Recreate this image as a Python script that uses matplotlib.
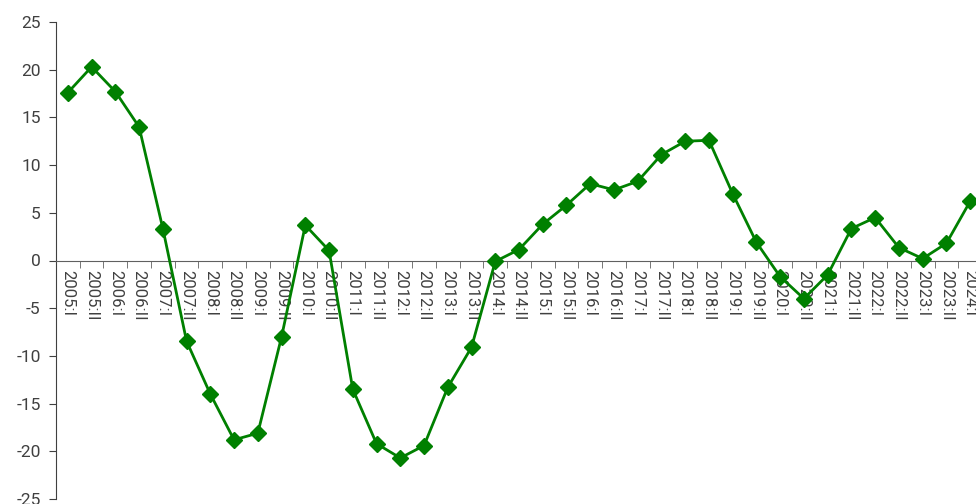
import matplotlib.pyplot as plt
import numpy as np

periods = []
for yr in range(2005, 2024):
    periods.append(f"{yr}:I")
    periods.append(f"{yr}:II")
periods.append("2024:I")

values = [17.6, 20.3, 17.7, 14.0, 3.35, -8.46, -14.0, -18.8, -18.1, -8.0,
          3.7, 1.05, -13.5, -19.2, -20.7, -19.4, -13.3, -9.1, -0.1, 1.15,
          3.8, 5.8, 8.05, 7.4, 8.3, 11.1, 12.5, 12.6, 7.0, 1.9,
          -1.7, -4.0, -1.5, 3.35, 4.5, 1.35, 0.2, 1.8, 6.2]

plt.rcParams['font.family'] = ['Roboto', 'DejaVu Sans']
plt.rcParams['axes.unicode_minus'] = False

fig = plt.figure(figsize=(9.76, 5.04), dpi=100)
ax = fig.add_axes([56 / 976, 5 / 504, 926 / 976, 477 / 504])

x = np.arange(len(periods))
ax.plot(x, values, color='#008000', lw=2, marker='D', markersize=8.5,
        markerfacecolor='#008000', markeredgecolor='#008000', zorder=3)

ax.set_xlim(-0.5, len(periods) - 0.5)
ax.set_ylim(-25, 25)
ax.set_yticks(range(-25, 30, 5))
ax.tick_params(axis='y', labelsize=12.5, labelcolor='#404040', length=5,
               color='#404040', pad=6)

ax.spines['top'].set_visible(False)
ax.spines['right'].set_visible(False)
ax.spines['bottom'].set_position(('data', 0))
ax.spines['bottom'].set_color('#606060')
ax.spines['left'].set_color('#404040')

ax.set_xticks(x)
ax.set_xticklabels(periods, rotation=270, fontsize=12, color='#404040',
                   va='top', ha='center')
ax.set_xticks(np.arange(len(periods) + 1) - 0.5, minor=True)
ax.tick_params(axis='x', which='major', length=0, pad=7)
ax.tick_params(axis='x', which='minor', length=5, color='#606060')

fig.savefig('out.png', dpi=100)
